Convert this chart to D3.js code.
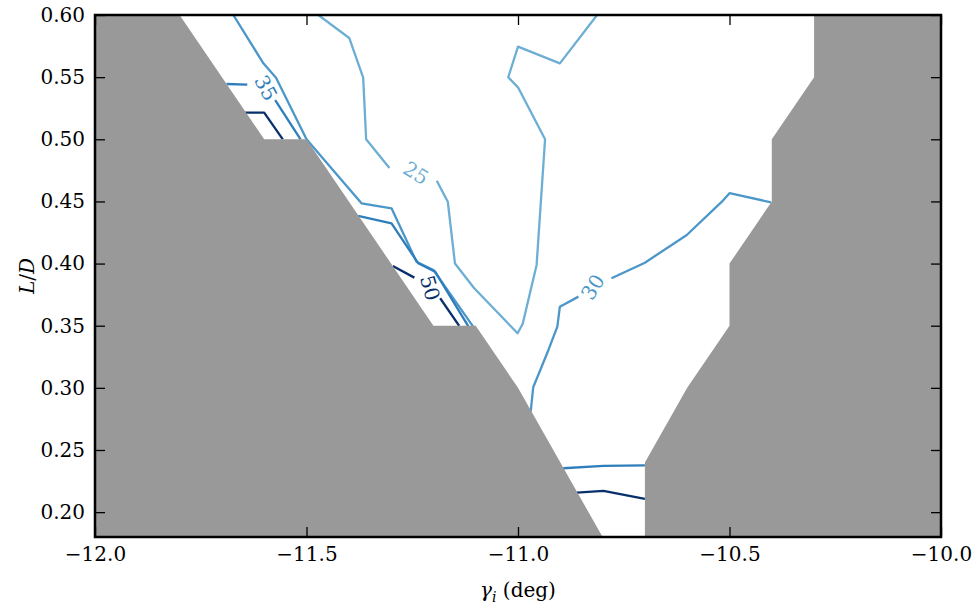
<!DOCTYPE html>
<html>
<head>
<meta charset="utf-8">
<script src="https://cdn.jsdelivr.net/npm/d3@7"></script>
<style>
  body { margin: 0; background: #fff; }
  svg text { font-family: "DejaVu Serif"; }
</style>
</head>
<body>
<div id="chart-area"></div>
<script>
// axis ticks
var xTicks = [-12, -11.5, -11, -10.5, -10];
var yTicks = [0.20, 0.25, 0.30, 0.35, 0.40, 0.45, 0.50, 0.55, 0.60];

// masked (no data) regions, [gamma, L/D]
var leftMask = [[-12, 0.60], [-11.8, 0.60], [-11.6, 0.50], [-11.5, 0.50], [-11.2, 0.35],
    [-11.1, 0.35], [-11.0, 0.30], [-10.8, 0.18], [-12, 0.18]];
var rightMask = [[-10.7, 0.18], [-10.7, 0.24], [-10.6, 0.30], [-10.5, 0.35], [-10.5, 0.40],
    [-10.4, 0.45], [-10.4, 0.50], [-10.3, 0.55], [-10.3, 0.60], [-10, 0.60], [-10, 0.18]];

// contour pieces (broken where the inline labels sit)
var levels = [25, 30, 35, 50];
var contour25 = [
    [[-11.472, 0.60], [-11.399, 0.5815], [-11.366, 0.5496], [-11.359, 0.50], [-11.304, 0.4769]],
    [[-11.192, 0.4667], [-11.166, 0.4498], [-11.149, 0.40], [-11.104, 0.3804], [-11.001, 0.3439],
     [-10.989, 0.3514], [-10.956, 0.3989], [-10.936, 0.50], [-11.0, 0.5418], [-11.023, 0.5499],
     [-11.0, 0.5745], [-10.901, 0.5611], [-10.813, 0.60]]
];
var contour30 = [
    [[-11.673, 0.60], [-11.602, 0.5611], [-11.572, 0.5496], [-11.5, 0.50], [-11.370, 0.4485],
     [-11.299, 0.4445], [-11.240, 0.4015], [-11.2, 0.3949], [-11.106, 0.3492]],
    [[-10.970, 0.2809], [-10.964, 0.3005], [-10.928, 0.3305], [-10.907, 0.3492], [-10.901, 0.3653],
     [-10.857, 0.3734]],
    [[-10.779, 0.3882], [-10.700, 0.4007], [-10.601, 0.4230], [-10.518, 0.4498], [-10.500, 0.4566],
     [-10.402, 0.4493]]
];
var contour35 = [
    [[-11.689, 0.5445], [-11.640, 0.5439]],
    [[-11.574, 0.5316], [-11.514, 0.50]],
    [[-11.378, 0.4383], [-11.299, 0.4324], [-11.236, 0.4003], [-11.196, 0.3935], [-11.117, 0.3492]],
    [[-10.893, 0.2353], [-10.798, 0.2372], [-10.700, 0.2377]]
];
var contour50 = [
    [[-11.645, 0.5214], [-11.600, 0.5214], [-11.556, 0.50]],
    [[-11.296, 0.3981], [-11.245, 0.3887]],
    [[-11.184, 0.3721], [-11.139, 0.3498]],
    [[-10.861, 0.2157], [-10.798, 0.2171], [-10.700, 0.2106]]
];
var contourPieces = [contour25, contour30, contour35, contour50];

// inline labels: level, position, rotation
var labelLevels = [25, 30, 35, 50];
var labelPos = [[-11.241, 0.4729], [-10.823, 0.3812], [-11.596, 0.5413], [-11.208, 0.3804]];
var labelAngle = [32, -58, 62, 74];

var width = 972, height = 609;
var margin = {left: 95, top: 15, right: 31, bottom: 72};
var w = width - margin.left - margin.right;
var h = height - margin.top - margin.bottom;

var svg = d3.select("#chart-area")
    .append("svg")
    .attr("width", width)
    .attr("height", height);

var g = svg.append("g")
    .attr("transform", "translate(" + margin.left + "," + margin.top + ")");

var x = d3.scaleLinear().domain([-12, -10]).range([0, w]);
var y = d3.scaleLinear().domain([0.18, 0.60]).range([h, 0]);

// Blues colormap, levels 25..50 -> 0.5..1.0
var t = d3.scaleLinear().domain([25, 50]).range([0.5, 1.0]);
var color = function(v) { return d3.interpolateBlues(t(v)); };

svg.append("clipPath").attr("id", "clip")
    .append("rect").attr("width", w).attr("height", h);

var plot = g.append("g").attr("clip-path", "url(#clip)");

var line = d3.line()
    .x(d => x(d[0]))
    .y(d => y(d[1]));

levels.forEach(function(lv, i) {
    plot.selectAll(".c" + lv)
        .data(contourPieces[i])
        .enter()
        .append("path")
        .attr("d", line)
        .attr("fill", "none")
        .attr("stroke", color(lv))
        .attr("stroke-width", 2.3)
        .attr("stroke-linejoin", "round");
});

plot.selectAll(".mask")
    .data([leftMask, rightMask])
    .enter()
    .append("path")
    .attr("d", d => line(d) + "Z")
    .attr("fill", "#999999");

plot.selectAll(".clabel")
    .data(labelLevels)
    .enter()
    .append("text")
    .attr("transform", function(d, i) {
        return "translate(" + x(labelPos[i][0]) + "," + y(labelPos[i][1]) + ") rotate(" + labelAngle[i] + ")";
    })
    .attr("text-anchor", "middle")
    .attr("dy", "0.35em")
    .attr("font-size", 20)
    .attr("fill", d => color(d))
    .text(d => d);

// axes with inward ticks on all sides
var tickLen = 10;
var xAxis = d3.axisBottom(x).tickValues(xTicks).tickFormat(d3.format(".1f"))
    .tickSizeInner(-tickLen).tickSizeOuter(0).tickPadding(10);
var yAxis = d3.axisLeft(y).tickValues(yTicks).tickFormat(d3.format(".2f"))
    .tickSizeInner(-tickLen).tickSizeOuter(0).tickPadding(10);

var gx = g.append("g").attr("transform", "translate(0," + h + ")").call(xAxis);
var gy = g.append("g").call(yAxis);
g.append("g").call(d3.axisTop(x).tickValues(xTicks).tickFormat("").tickSizeInner(-tickLen).tickSizeOuter(0));
g.append("g").attr("transform", "translate(" + w + ",0)")
    .call(d3.axisRight(y).tickValues(yTicks).tickFormat("").tickSizeInner(-tickLen).tickSizeOuter(0));

g.selectAll(".domain").remove();
g.selectAll(".tick line").attr("stroke", "#000").attr("stroke-width", 1.3);
g.selectAll(".tick text")
    .attr("font-size", 20)
    .attr("fill", "#000");

g.append("rect")
    .attr("width", w).attr("height", h)
    .attr("fill", "none")
    .attr("stroke", "#000")
    .attr("stroke-width", 2.5);

// axis labels
var xl = svg.append("text")
    .attr("x", margin.left + w / 2)
    .attr("y", 597)
    .attr("text-anchor", "middle")
    .attr("font-size", 20);
xl.append("tspan").attr("font-style", "italic").text("γ");
xl.append("tspan").attr("font-style", "italic").attr("font-size", 14).attr("dy", 5).text("i");
xl.append("tspan").attr("dy", -5).text(" (deg)");

var yl = svg.append("text")
    .attr("transform", "translate(34," + (margin.top + h / 2) + ") rotate(-90)")
    .attr("text-anchor", "middle")
    .attr("font-size", 20);
yl.append("tspan").attr("font-style", "italic").text("L");
yl.append("tspan").text("/");
yl.append("tspan").attr("font-style", "italic").text("D");
</script>
</body>
</html>
